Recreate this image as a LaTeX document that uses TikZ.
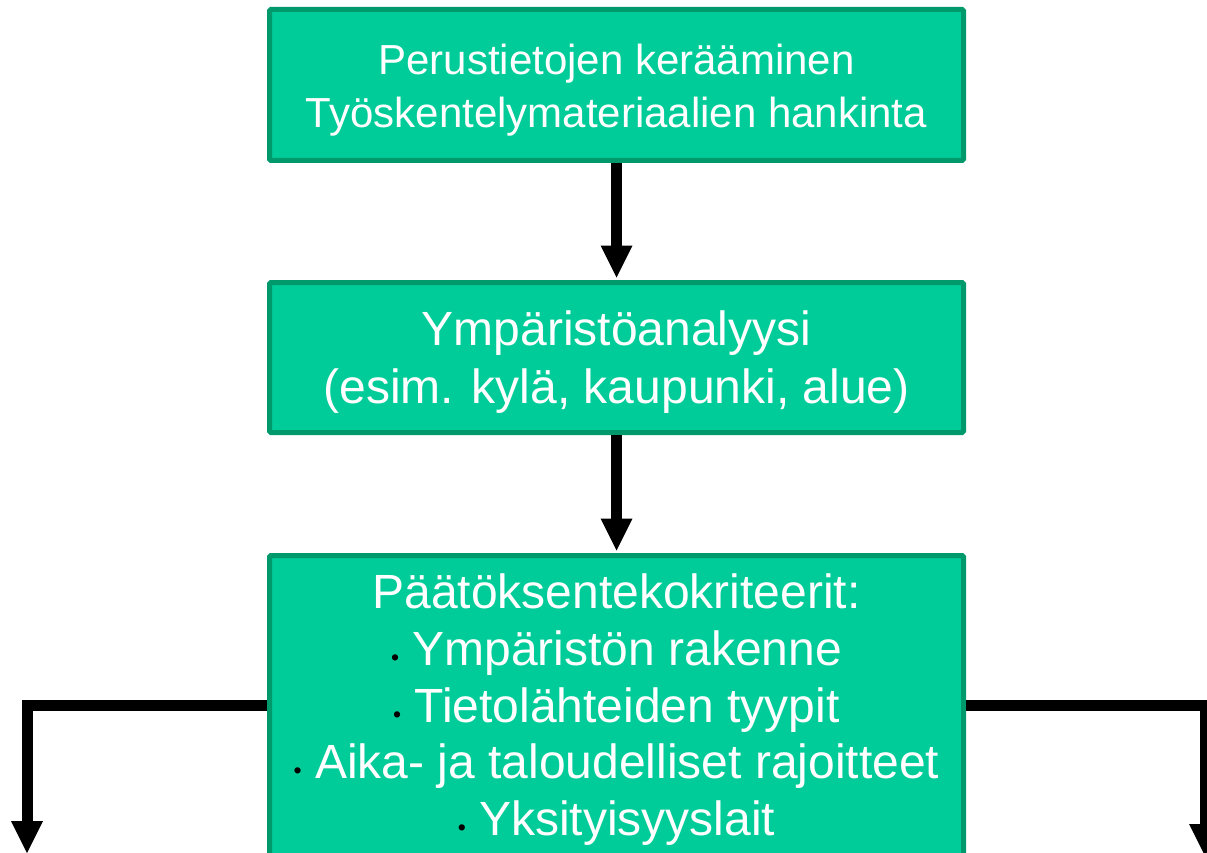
\documentclass[tikz,border=0pt]{standalone}
\usepackage{fontspec}
\setmainfont{Liberation Sans}
\usetikzlibrary{arrows.meta}
\definecolor{boxfill}{HTML}{00CC99}
\definecolor{boxline}{HTML}{00996B}
\tikzset{
  box/.style={draw=boxline, fill=boxfill, line width=5pt, rounded corners=1.5pt,
    minimum width=694pt, inner sep=0pt},
  txtA/.style={text=white, font=\fontsize{42}{50}\selectfont, anchor=base, inner sep=0pt},
  txtB/.style={text=white, font=\fontsize{48}{58}\selectfont, anchor=base, inner sep=0pt},
  arr/.style={line width=11pt, line join=miter,
    -{Triangle[width=32pt,length=32pt,line width=0pt]}},
}
\newcommand\mybul{{\color{black}\fontsize{23}{23}\selectfont\textbullet}}
\begin{document}
\begin{tikzpicture}[x=1pt,y=-1pt]
\useasboundingbox (0,0) rectangle (1207,853);
\clip (0,0) rectangle (1207,853);
% boxes
\node[box, minimum height=151pt] (b1) at (616.5,85) {};
\node[box, minimum height=150pt] (b2) at (616.5,357.5) {};
\node[box, minimum height=300pt] (b3) at (616.5,705.5) {};
% texts
\node[txtA] (t1a) at (616.5,75) {Perustietojen kerääminen};
\node[txtA] (t1b) at (616.5,128) {Työskentelymateriaalien hankinta};
\node[txtB] (t2a) at (616.5,345) {Ympäristöanalyysi};
\node[txtB] (t2b) at (616.5,403) {(esim. kylä, kaupunki, alue)};
\node[txtB] (t3a) at (616.5,608) {Päätöksentekokriteerit:};
\node[txtB] (t3b) at (616.5,665) {\mybul\ Ympäristön rakenne};
\node[txtB] (t3c) at (616.5,722) {\mybul\ Tietolähteiden tyypit};
\node[txtB] (t3d) at (616.5,778) {\mybul\ Aika- ja taloudelliset rajoitteet};
\node[txtB] (t3e) at (616.5,835) {\mybul\ Yksityisyyslait};
% connectors
\coordinate (le) at (27,853);
\coordinate (re) at (1205,856);
\draw[arr, shorten >=2.5pt] (b1.south) -- (b2.north);
\draw[arr, shorten >=2.5pt] (b2.south) -- (b3.north);
\draw[arr] (b3.west) -| (le);
\draw[arr] (b3.east) -| (re);
\end{tikzpicture}
\end{document}
